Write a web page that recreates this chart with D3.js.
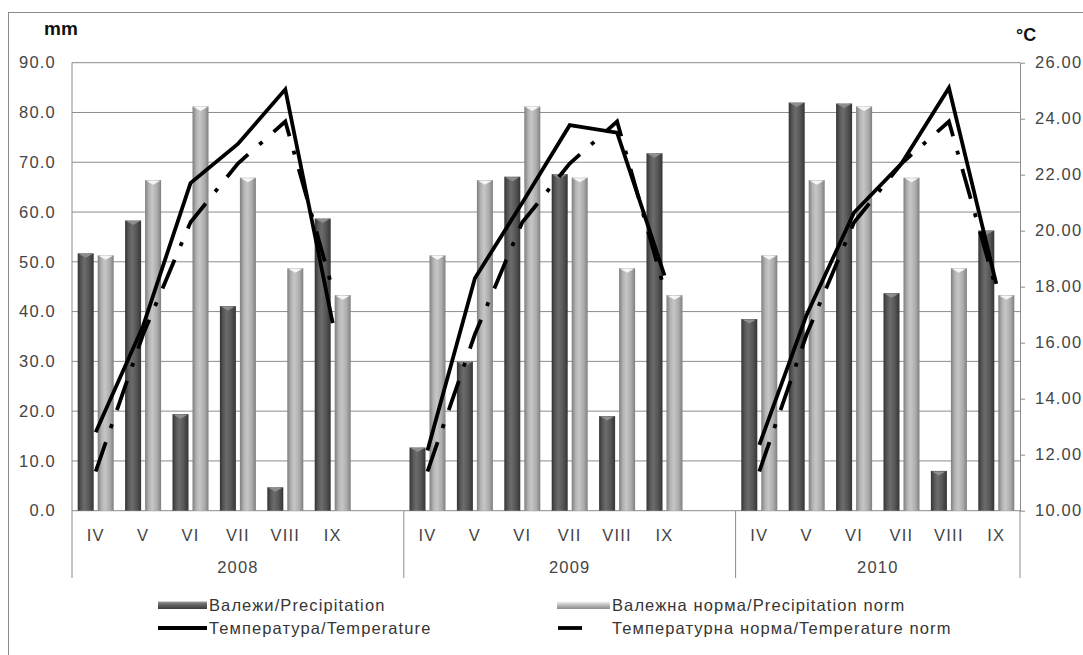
<!DOCTYPE html>
<html><head><meta charset="utf-8">
<script src="https://cdn.jsdelivr.net/npm/d3@7"></script>
<style>
body{margin:0;background:#fff}
svg{display:block;font-family:"Liberation Sans",Arial,sans-serif}
</style>
</head><body><svg id="c" width="1083" height="655"></svg>
<script>
// ---------- DATA ----------
const years = ["2008", "2009", "2010"];
const months = ["IV", "V", "VI", "VII", "VIII", "IX"];
const precipitation2008 = [51.7, 58.3, 19.4, 41.1, 4.7, 58.7];
const precipitation2009 = [12.7, 29.9, 67.1, 67.6, 19.0, 71.8];
const precipitation2010 = [38.5, 82.0, 81.8, 43.7, 8.0, 56.3];
const precipitationNorm = [51.3, 66.4, 81.2, 66.9, 48.7, 43.3];
const temperature2008 = [12.8, 16.6, 21.7, 23.1, 25.05, 16.7];
const temperature2009 = [12.15, 18.3, 21.0, 23.77, 23.5, 18.4];
const temperature2010 = [12.35, 17.0, 20.65, 22.4, 25.1, 18.1];
const temperatureNorm = [11.4, 16.3, 20.3, 22.4, 23.9, 17.9];
const leftTicks = [0, 10, 20, 30, 40, 50, 60, 70, 80, 90];
const rightTicks = [10, 12, 14, 16, 18, 20, 22, 24, 26];
const legendLabels = ["Валежи/Precipitation", "Валежна норма/Precipitation norm",
  "Температура/Temperature", "Температурна норма/Temperature norm"];
const leftUnit = "mm", rightUnit = "°C";

// ---------- BUILD ----------
const precipByYear = {"2008": precipitation2008, "2009": precipitation2009, "2010": precipitation2010};
const tempByYear = {"2008": temperature2008, "2009": temperature2009, "2010": temperature2010};
const slots = [];
years.forEach((y, i) => {
  months.forEach(m => slots.push(y + "-" + m));
  if (i < years.length - 1) slots.push(y + "-gap");
});

const svg = d3.select("#c");
const L = 72, R = 1020, T = 62.7, B = 510.7, AXB = 578;
const x = d3.scaleBand().domain(slots).range([L, R]);
const bw = x.bandwidth();
const sub = d3.scaleBand().domain(["p", "n"]).range([0, bw]).paddingInner(0.2).paddingOuter(0.285);
const yL = d3.scaleLinear().domain([0, 90]).range([B, T]);
const yR = d3.scaleLinear().domain([10, 26]).range([B, T]);

const defs = svg.append("defs");
function grad(id, stops, vertical) {
  const g = defs.append("linearGradient").attr("id", id)
    .attr("x1", 0).attr("y1", 0).attr("x2", vertical ? 0 : 1).attr("y2", vertical ? 1 : 0);
  stops.forEach(s => g.append("stop").attr("offset", s[0]).attr("stop-color", s[1]));
}
grad("dark", [[0, "#333"], [0.22, "#585858"], [0.42, "#6c6c6c"], [0.7, "#575757"], [1, "#353535"]]);
grad("light", [[0, "#7e7e7e"], [0.25, "#b4b4b4"], [0.45, "#c6c6c6"], [0.75, "#acacac"], [1, "#7f7f7f"]]);
grad("darkV", [[0, "#a0a0a0"], [0.35, "#6a6a6a"], [1, "#3c3c3c"]], true);
grad("lightV", [[0, "#f4f4f4"], [0.4, "#c4c4c4"], [1, "#8a8a8a"]], true);

// outer border
svg.append("rect").attr("x", 8.5).attr("y", 12.5).attr("width", 1100).attr("height", 700)
  .attr("fill", "none").attr("stroke", "#8a8a8a");

// gridlines
svg.append("g").selectAll("line").data(leftTicks).join("line")
  .attr("x1", L).attr("x2", R).attr("y1", d => yL(d)).attr("y2", d => yL(d))
  .attr("stroke", "#8c8c8c").attr("stroke-width", 1);

// left axis labels
const gL = svg.append("g").attr("transform", `translate(${L},0)`)
  .call(d3.axisLeft(yL).tickValues(leftTicks).tickFormat(d3.format(".1f")).tickSize(0).tickPadding(16));
gL.select(".domain").remove();
gL.selectAll("text").attr("font-size", 16.5).attr("fill", "#454545")
  .style("font-family", "Liberation Sans, Arial, sans-serif").style("letter-spacing", "1.2px");

// right axis
const gR = svg.append("g").attr("transform", `translate(${R},0)`)
  .call(d3.axisRight(yR).tickValues(rightTicks).tickFormat(d3.format(".2f")).tickSize(5).tickPadding(10).tickSizeOuter(0));
gR.select(".domain").attr("stroke", "#8c8c8c");
gR.selectAll(".tick line").attr("stroke", "#8c8c8c");
gR.selectAll("text").attr("font-size", 16.5).attr("fill", "#454545")
  .style("font-family", "Liberation Sans, Arial, sans-serif").style("letter-spacing", "1.2px");

// vertical axis lines / year separators
const seps = [L].concat(years.slice(1).map(y => x(y + "-IV"))).concat([R]);
svg.append("g").selectAll("line").data(seps).join("line")
  .attr("x1", d => d).attr("x2", d => d)
  .attr("y1", (d, i) => (i === 0 ? T : B)).attr("y2", AXB)
  .attr("stroke", "#8c8c8c");

// bars
const barData = [];
years.forEach(y => months.forEach((m, i) => {
  barData.push({key: y + "-" + m, s: "p", v: precipByYear[y][i]});
  barData.push({key: y + "-" + m, s: "n", v: precipitationNorm[i]});
}));
const bars = svg.append("g").selectAll("g").data(barData).join("g");
bars.append("rect")
  .attr("x", d => x(d.key) + sub(d.s)).attr("width", sub.bandwidth())
  .attr("y", d => yL(d.v)).attr("height", d => B - yL(d.v))
  .attr("fill", d => d.s === "p" ? "url(#dark)" : "url(#light)");
bars.append("path")
  .attr("d", d => {
    const x0 = x(d.key) + sub(d.s), w = sub.bandwidth(), y0 = yL(d.v);
    return `M${x0 + 1},${y0 + 0.5} L${x0 + w - 1},${y0 + 0.5} L${x0 + w / 2},${y0 + 4.5} Z`;
  })
  .attr("fill", d => d.s === "p" ? "#8e8e8e" : "#f6f6f6");

// lines
const line = d3.line().x(d => x(d.key) + bw / 2).y(d => yR(d.v));
years.forEach(y => {
  const tempPts = months.map((m, i) => ({key: y + "-" + m, v: tempByYear[y][i]}));
  const normPts = months.map((m, i) => ({key: y + "-" + m, v: temperatureNorm[i]}));
  svg.append("path").datum(normPts).attr("d", line)
    .attr("fill", "none").attr("stroke", "#000").attr("stroke-width", 3.8)
    .attr("stroke-dasharray", "31,15,4,15").attr("stroke-linejoin", "miter");
  svg.append("path").datum(tempPts).attr("d", line)
    .attr("fill", "none").attr("stroke", "#000").attr("stroke-width", 3.8)
    .attr("stroke-linejoin", "miter");
});

// month labels
const monthData = [];
years.forEach(y => months.forEach(m => monthData.push({key: y + "-" + m, m})));
svg.append("g").selectAll("text").data(monthData).join("text")
  .attr("x", d => x(d.key) + bw / 2).attr("y", 541)
  .attr("text-anchor", "middle").attr("font-size", 16.5).attr("fill", "#454545")
  .style("letter-spacing", "1.2px").text(d => d.m);

// year labels
svg.append("g").selectAll("text").data(years).join("text")
  .attr("x", (y, i) => (seps[i] + seps[i + 1]) / 2).attr("y", 573)
  .attr("text-anchor", "middle").attr("font-size", 16.5).attr("fill", "#454545")
  .style("letter-spacing", "1.2px").text(d => d);

// unit labels
svg.append("text").attr("x", 44).attr("y", 35).attr("font-size", 19).attr("font-weight", "bold")
  .attr("fill", "#111").text(leftUnit);
svg.append("text").attr("x", 1016).attr("y", 41).attr("font-size", 18).attr("font-weight", "bold")
  .attr("fill", "#111").text(rightUnit);

// legend
const lg = svg.append("g").attr("font-size", 16.5).attr("fill", "#353535").style("letter-spacing", "1.1px");
lg.append("rect").attr("x", 158).attr("y", 601.5).attr("width", 49).attr("height", 7.5).attr("fill", "url(#darkV)");
lg.append("text").attr("x", 209).attr("y", 611).text(legendLabels[0]);
lg.append("rect").attr("x", 557).attr("y", 601.5).attr("width", 53).attr("height", 7.5).attr("fill", "url(#lightV)");
lg.append("text").attr("x", 612).attr("y", 611).text(legendLabels[1]);
lg.append("line").attr("x1", 158).attr("x2", 207).attr("y1", 628).attr("y2", 628)
  .attr("stroke", "#000").attr("stroke-width", 3.8);
lg.append("text").attr("x", 209).attr("y", 634).text(legendLabels[2]);
lg.append("line").attr("x1", 558).attr("x2", 582).attr("y1", 628).attr("y2", 628)
  .attr("stroke", "#000").attr("stroke-width", 3.8);
lg.append("text").attr("x", 612).attr("y", 634).text(legendLabels[3]);
</script></body></html>
